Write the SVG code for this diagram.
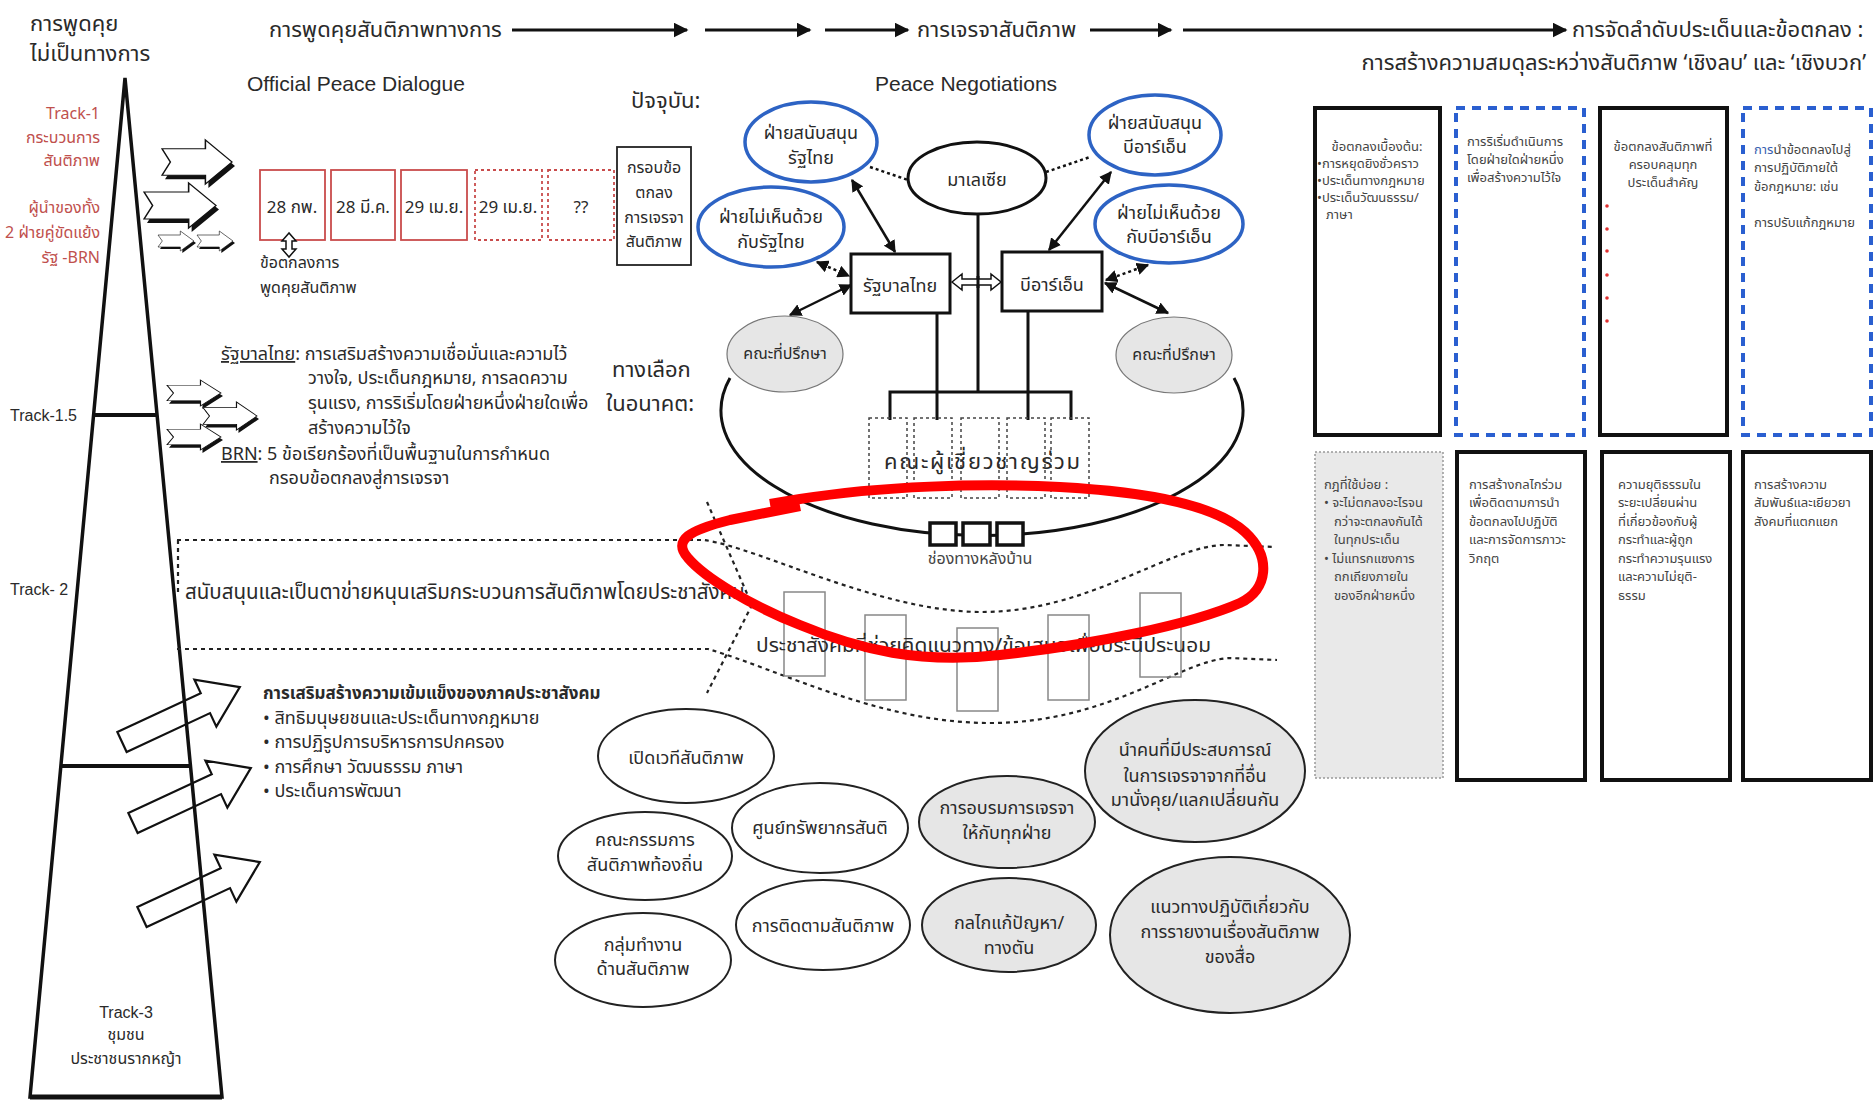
<svg xmlns="http://www.w3.org/2000/svg" width="1874" height="1102" viewBox="0 0 1874 1102">
<defs>
<style>
text{font-family:"Noto Sans","Noto Sans Thai","Liberation Sans",sans-serif;fill:#2a2a2a}
.h{font-size:22px}
.m{font-size:18px}
.sm{font-size:16px}
.xs{font-size:13px;fill:#444}
.en{font-family:"Liberation Sans",Arial,sans-serif}
.c{text-anchor:middle}
.r{text-anchor:end}
.red{fill:#c0504d}
.ln{stroke:#111;fill:none}
.blue{fill:#fff;stroke:#2d63c4;stroke-width:3.5}
.gray{fill:#e6e6e6;stroke:#777;stroke-width:1.2}
.wht{fill:#fff;stroke:#222;stroke-width:2}
.blk{fill:#fff;stroke:#111;stroke-width:2.2}
.shd{fill:#111}
</style>
<marker id="a" viewBox="0 0 10 10" refX="9" refY="5" markerWidth="5" markerHeight="5" orient="auto-start-reverse"><path d="M0,0L10,5L0,10z" fill="#111"/></marker>
<marker id="b" viewBox="0 0 10 10" refX="9" refY="5" markerWidth="5" markerHeight="5" orient="auto-start-reverse"><path d="M0,0L10,5L0,10z" fill="#111"/></marker>
<path id="notch" d="M0,20 L62,20 L62,0 L100,50 L62,100 L62,80 L0,80 L12,50 Z"/>
<path id="diag" d="M0,-11 L92,-11 L92,-26 L130,0 L92,26 L92,11 L0,11 Z"/>
</defs>
<rect width="1874" height="1102" fill="#fff"/>

<!-- Header -->
<g id="header">
<text class="h" x="30" y="31">การพูดคุย</text>
<text class="h" x="30" y="61">ไม่เป็นทางการ</text>
<text class="h" x="269" y="37">การพูดคุยสันติภาพทางการ</text>
<text class="h" x="917" y="37">การเจรจาสันติภาพ</text>
<text class="h" x="1572" y="37">การจัดลำดับประเด็นและข้อตกลง :</text>
<text class="h r" x="1866" y="70">การสร้างความสมดุลระหว่างสันติภาพ ‘เชิงลบ’ และ ‘เชิงบวก’</text>
<text class="en" x="247" y="91" font-size="21">Official Peace Dialogue</text>
<text class="en" x="875" y="91" font-size="21">Peace Negotiations</text>
<text class="h" x="631" y="108">ปัจจุบัน:</text>
<text class="h" x="612" y="377">ทางเลือก</text>
<text class="h" x="606" y="411">ในอนาคต:</text>
</g>

<!-- Pyramid -->
<g id="pyramid">
<use href="#diag" class="blk" transform="translate(122,742) rotate(-25)"/>
<use href="#diag" class="blk" transform="translate(133,823) rotate(-25)"/>
<use href="#diag" class="blk" transform="translate(142,917) rotate(-25)"/>
<polygon points="125,78 222,1097 30,1097" fill="none" stroke="#111" stroke-width="3.5" stroke-linejoin="miter"/>
<line x1="93" y1="415" x2="157" y2="415" stroke="#111" stroke-width="4"/>
<line x1="61" y1="766" x2="190" y2="766" stroke="#111" stroke-width="4"/>
<line x1="30" y1="1097" x2="222" y2="1097" stroke="#111" stroke-width="5"/>
<text class="sm red r" x="100" y="119">Track-1</text>
<text class="sm red r" x="100" y="143">กระบวนการ</text>
<text class="sm red r" x="100" y="166">สันติภาพ</text>
<text class="sm red r" x="100" y="213">ผู้นำของทั้ง</text>
<text class="sm red r" x="100" y="238">2 ฝ่ายคู่ขัดแย้ง</text>
<text class="sm red r" x="100" y="263">รัฐ -BRN</text>
<text class="sm en" x="10" y="421">Track-1.5</text>
<text class="sm en" x="10" y="595">Track- 2</text>
<text class="sm en c" x="126" y="1018">Track-3</text>
<text class="sm c" x="126" y="1040">ชุมชน</text>
<text class="sm c" x="126" y="1064">ประชาชนรากหญ้า</text>
</g>

<!-- Track-1 block arrows -->
<g id="track1-arrows">
<use href="#notch" class="shd" transform="translate(165,144) scale(0.7,0.44)"/>
<use href="#notch" class="blk" transform="translate(162,140) scale(0.7,0.44)"/>
<use href="#notch" class="shd" transform="translate(147,187) scale(0.72,0.45)"/>
<use href="#notch" class="blk" transform="translate(144,183) scale(0.72,0.45)"/>
<use href="#notch" class="shd" transform="translate(160,233) scale(0.36,0.2)"/>
<use href="#notch" class="blk" transform="translate(158,231) scale(0.36,0.2)"/>
<use href="#notch" class="shd" transform="translate(199,233) scale(0.36,0.2)"/>
<use href="#notch" class="blk" transform="translate(197,231) scale(0.36,0.2)"/>
<use href="#notch" class="shd" transform="translate(169,383) scale(0.54,0.26)"/>
<use href="#notch" class="blk" transform="translate(167,380) scale(0.54,0.26)"/>
<use href="#notch" class="shd" transform="translate(205,405) scale(0.54,0.28)"/>
<use href="#notch" class="blk" transform="translate(203,402) scale(0.54,0.28)"/>
<use href="#notch" class="shd" transform="translate(169,427) scale(0.54,0.26)"/>
<use href="#notch" class="blk" transform="translate(167,424) scale(0.54,0.26)"/>
</g>

<!-- Track-1 date boxes -->
<g id="dates" font-size="17">
<rect x="260" y="170" width="65" height="70" fill="none" stroke="#c94c4c" stroke-width="1.8"/>
<rect x="331" y="170" width="64" height="70" fill="none" stroke="#c94c4c" stroke-width="1.8"/>
<rect x="401" y="170" width="66" height="70" fill="none" stroke="#c94c4c" stroke-width="1.8"/>
<rect x="475" y="170" width="67" height="70" fill="none" stroke="#c94c4c" stroke-width="1.8" stroke-dasharray="3 3"/>
<rect x="548" y="170" width="66" height="70" fill="none" stroke="#c94c4c" stroke-width="1.8" stroke-dasharray="3 3"/>
<text class="c" x="292" y="213">28 กพ.</text>
<text class="c" x="363" y="213">28 มี.ค.</text>
<text class="c" x="434" y="213">29 เม.ย.</text>
<text class="c" x="508" y="213">29 เม.ย.</text>
<text class="c" x="581" y="213">??</text>
<polygon points="289,233 282,241 286,241 286,249 282,249 289,257 296,249 292,249 292,241 296,241" fill="#fff" stroke="#111" stroke-width="1.5"/>
<text class="sm" x="260" y="268">ข้อตกลงการ</text>
<text class="sm" x="260" y="293">พูดคุยสันติภาพ</text>
</g>

<g id="framework">
<rect x="617" y="147" width="74" height="118" fill="#fff" stroke="#222" stroke-width="1.8"/>
<text class="sm c" x="654" y="173">กรอบข้อ</text>
<text class="sm c" x="654" y="198">ตกลง</text>
<text class="sm c" x="654" y="223">การเจรจา</text>
<text class="sm c" x="654" y="247">สันติภาพ</text>
</g>

<!-- Track-1.5 text -->
<g id="track15-text" font-size="18">
<text x="221" y="360"><tspan text-decoration="underline">รัฐบาลไทย</tspan>: การเสริมสร้างความเชื่อมั่นและความไว้</text>
<text x="308" y="384">วางใจ, ประเด็นกฎหมาย, การลดความ</text>
<text x="308" y="409">รุนแรง, การริเริ่มโดยฝ่ายหนึ่งฝ่ายใดเพื่อ</text>
<text x="308" y="434">สร้างความไว้ใจ</text>
<text x="221" y="460"><tspan text-decoration="underline">BRN</tspan>: 5 ข้อเรียกร้องที่เป็นพื้นฐานในการกำหนด</text>
<text x="269" y="484">กรอบข้อตกลงสู่การเจรจา</text>
</g>

<!-- Connectors -->
<g id="connectors" fill="none" stroke="#111">
<line x1="512" y1="30" x2="687" y2="30" stroke-width="3" marker-end="url(#a)"/>
<line x1="705" y1="30" x2="810" y2="30" stroke-width="3" marker-end="url(#a)"/>
<line x1="825" y1="30" x2="908" y2="30" stroke-width="3" marker-end="url(#a)"/>
<line x1="1090" y1="30" x2="1171" y2="30" stroke-width="3" marker-end="url(#a)"/>
<line x1="1183" y1="30" x2="1566" y2="30" stroke-width="3" marker-end="url(#a)"/>
<line x1="852" y1="180" x2="895" y2="252" stroke-width="2.5" marker-start="url(#b)" marker-end="url(#b)"/>
<line x1="817" y1="262" x2="849" y2="276" stroke-width="2.5" stroke-dasharray="3 3" marker-start="url(#b)" marker-end="url(#b)"/>
<line x1="851" y1="285" x2="790" y2="315" stroke-width="2.5" marker-start="url(#b)" marker-end="url(#b)"/>
<line x1="1111" y1="172" x2="1049" y2="250" stroke-width="2.5" marker-start="url(#b)" marker-end="url(#b)"/>
<line x1="1148" y1="265" x2="1106" y2="280" stroke-width="2.5" stroke-dasharray="3 3" marker-start="url(#b)" marker-end="url(#b)"/>
<line x1="1105" y1="283" x2="1168" y2="313" stroke-width="2.5" marker-start="url(#b)" marker-end="url(#b)"/>
<line x1="870" y1="167" x2="908" y2="180" stroke-width="2.5" stroke-dasharray="3 3"/>
<line x1="1046" y1="172" x2="1090" y2="157" stroke-width="2.5" stroke-dasharray="3 3"/>
<path d="M730,378 A261,125 0 1,0 1234,378" stroke-width="3"/>
<path d="M978,214 V392 M890,420 V392 H1071 V420 M937,313 V420 M1028,311 V420" stroke-width="3"/>
<polygon points="952,282 962,274 962,279 991,279 991,274 1001,282 991,290 991,285 962,285 962,290" fill="#fff" stroke-width="1.5"/>
<line x1="978" y1="276" x2="978" y2="288" stroke-width="3"/>
<!-- Track-2 dotted network -->
<g stroke="#222" stroke-width="2.2" stroke-dasharray="4 4">
<path d="M177,540 L704,540 C760,548 880,612 982,612 C1090,612 1170,545 1225,545 L1275,547"/>
<path d="M177,649 L708,649 C780,670 880,723 990,723 C1110,723 1180,660 1230,658 L1277,660"/>
<path d="M707,502 L752,605 L707,693"/>
<path d="M178,540 L178,592"/>
</g>
</g>

<!-- Negotiation nodes -->
<g id="malaysia"><ellipse cx="977" cy="178" rx="69" ry="36" fill="#fff" stroke="#111" stroke-width="3"/><text class="m c" x="977" y="186">มาเลเซีย</text></g>
<g id="pro-thai"><ellipse class="blue" cx="811" cy="142" rx="66" ry="40"/><text class="m c" x="811" y="139">ฝ่ายสนับสนุน</text><text class="m c" x="811" y="164">รัฐไทย</text></g>
<g id="anti-thai"><ellipse class="blue" cx="771" cy="227" rx="73" ry="40"/><text class="m c" x="771" y="223">ฝ่ายไม่เห็นด้วย</text><text class="m c" x="771" y="248">กับรัฐไทย</text></g>
<g id="pro-brn"><ellipse class="blue" cx="1155" cy="135" rx="66" ry="40"/><text class="m c" x="1155" y="129">ฝ่ายสนับสนุน</text><text class="m c" x="1155" y="153">บีอาร์เอ็น</text></g>
<g id="anti-brn"><ellipse class="blue" cx="1169" cy="224" rx="74" ry="39"/><text class="m c" x="1169" y="219">ฝ่ายไม่เห็นด้วย</text><text class="m c" x="1169" y="243">กับบีอาร์เอ็น</text></g>
<g id="thai-gov"><rect x="851" y="254" width="99" height="59" fill="#fff" stroke="#111" stroke-width="3"/><text class="m c" x="900" y="292">รัฐบาลไทย</text></g>
<g id="brn"><rect x="1002" y="252" width="100" height="59" fill="#fff" stroke="#111" stroke-width="3"/><text class="m c" x="1052" y="291">บีอาร์เอ็น</text></g>
<g id="advisor-l"><ellipse class="gray" cx="785" cy="354" rx="58" ry="38"/><text class="sm c" x="785" y="359">คณะที่ปรึกษา</text></g>
<g id="advisor-r"><ellipse class="gray" cx="1174" cy="355" rx="58" ry="38"/><text class="sm c" x="1174" y="360">คณะที่ปรึกษา</text></g>
<g id="experts" fill="none" stroke="#444" stroke-width="1.5" stroke-dasharray="3 3">
<rect x="869" y="418" width="38" height="80"/><rect x="914" y="418" width="38" height="80"/><rect x="961" y="418" width="38" height="80"/><rect x="1007" y="418" width="38" height="80"/><rect x="1051" y="418" width="38" height="80"/>
</g>
<text x="884" y="469" font-size="22" textLength="196" lengthAdjust="spacing">คณะผู้เชี่ยวชาญร่วม</text>
<g id="backchannel" fill="#fff" stroke="#111" stroke-width="3.5">
<rect x="930" y="523" width="26" height="22"/><rect x="963" y="523" width="27" height="22"/><rect x="997" y="523" width="26" height="22"/>
</g>
<text class="sm c" x="980" y="564" style="fill:#444">ช่องทางหลังบ้าน</text>

<!-- Track-2 -->
<g id="track2">
<text x="185" y="599" font-size="20.5">สนับสนุนและเป็นตาข่ายหนุนเสริมกระบวนการสันติภาพโดยประชาสังคม</text>
<g fill="none" stroke="#888" stroke-width="1.5">
<rect x="784" y="592" width="41" height="84"/><rect x="865" y="615" width="41" height="85"/><rect x="957" y="628" width="41" height="83"/><rect x="1048" y="615" width="41" height="85"/><rect x="1140" y="593" width="41" height="84"/>
</g>
<text x="756" y="652" font-size="19" textLength="455" lengthAdjust="spacingAndGlyphs">ประชาสังคมที่ช่วยคิดแนวทาง/ข้อเสนอเพื่อประนีประนอม</text>
</g>

<!-- Track-3 text -->
<g id="track3-text" font-size="18">
<text x="263" y="699" font-size="17" font-weight="bold">การเสริมสร้างความเข้มแข็งของภาคประชาสังคม</text>
<text x="263" y="724">• สิทธิมนุษยชนและประเด็นทางกฎหมาย</text>
<text x="263" y="748">• การปฏิรูปการบริหารการปกครอง</text>
<text x="263" y="773">• การศึกษา วัฒนธรรม ภาษา</text>
<text x="263" y="797">• ประเด็นการพัฒนา</text>
</g>

<!-- Civil society ellipses -->
<g id="e1"><ellipse class="wht" cx="686" cy="756" rx="88" ry="47"/><text class="m c" x="686" y="764">เปิดเวทีสันติภาพ</text></g>
<g id="e2"><ellipse class="wht" cx="645" cy="856" rx="87" ry="44"/><text class="m c" x="645" y="846">คณะกรรมการ</text><text class="m c" x="645" y="871">สันติภาพท้องถิ่น</text></g>
<g id="e3"><ellipse class="wht" cx="643" cy="960" rx="88" ry="47"/><text class="m c" x="643" y="951">กลุ่มทำงาน</text><text class="m c" x="643" y="975">ด้านสันติภาพ</text></g>
<g id="e4"><ellipse class="wht" cx="820" cy="828" rx="88" ry="45"/><text class="m c" x="820" y="834">ศูนย์ทรัพยากรสันติ</text></g>
<g id="e5"><ellipse class="wht" cx="823" cy="925" rx="87" ry="45"/><text class="m c" x="823" y="932">การติดตามสันติภาพ</text></g>
<g id="e6"><ellipse class="gray" style="stroke:#222;stroke-width:2" cx="1007" cy="822" rx="88" ry="46"/><text class="m c" x="1007" y="814">การอบรมการเจรจา</text><text class="m c" x="1007" y="839">ให้กับทุกฝ่าย</text></g>
<g id="e7"><ellipse class="gray" style="stroke:#222;stroke-width:2" cx="1009" cy="925" rx="87" ry="47"/><text class="m c" x="1009" y="929">กลไกแก้ปัญหา/</text><text class="m c" x="1009" y="954">ทางตัน</text></g>
<g id="e8"><ellipse class="gray" style="stroke:#222;stroke-width:2" cx="1195" cy="771" rx="110" ry="71"/><text class="m c" x="1195" y="756">นำคนที่มีประสบการณ์</text><text class="m c" x="1195" y="782">ในการเจรจาจากที่อื่น</text><text class="m c" x="1195" y="806">มานั่งคุย/แลกเปลี่ยนกัน</text></g>
<g id="e9"><ellipse class="gray" style="stroke:#222;stroke-width:2" cx="1230" cy="935" rx="120" ry="78"/><text class="m c" x="1230" y="913">แนวทางปฏิบัติเกี่ยวกับ</text><text class="m c" x="1230" y="938">การรายงานเรื่องสันติภาพ</text><text class="m c" x="1230" y="963">ของสื่อ</text></g>

<!-- Right side boxes -->
<g id="boxA"><rect x="1315" y="108" width="125" height="327" fill="#fff" stroke="#111" stroke-width="4"/>
<text class="xs c" x="1377" y="151">ข้อตกลงเบื้องต้น:</text>
<text class="xs" x="1317" y="168">•การหยุดยิงชั่วคราว</text>
<text class="xs" x="1317" y="185">•ประเด็นทางกฎหมาย</text>
<text class="xs" x="1317" y="202">•ประเด็นวัฒนธรรม/</text>
<text class="xs" x="1326" y="219">ภาษา</text></g>
<g id="boxB"><rect x="1456" y="108" width="128" height="327" fill="#fff" stroke="#2a5fd0" stroke-width="4" stroke-dasharray="9 7"/>
<text class="xs" x="1467" y="146">การริเริ่มดำเนินการ</text>
<text class="xs" x="1467" y="164">โดยฝ่ายใดฝ่ายหนึ่ง</text>
<text class="xs" x="1467" y="182">เพื่อสร้างความไว้ใจ</text></g>
<g id="boxC"><rect x="1600" y="108" width="127" height="327" fill="#fff" stroke="#111" stroke-width="4"/>
<text class="xs c" x="1663" y="151">ข้อตกลงสันติภาพที่</text>
<text class="xs c" x="1663" y="169">ครอบคลุมทุก</text>
<text class="xs c" x="1663" y="187">ประเด็นสำคัญ</text>
<g fill="#e03030"><circle cx="1607" cy="206" r="1.8"/><circle cx="1607" cy="229" r="1.8"/><circle cx="1607" cy="251" r="1.8"/><circle cx="1607" cy="275" r="1.8"/><circle cx="1607" cy="298" r="1.8"/><circle cx="1607" cy="321" r="1.8"/></g></g>
<g id="boxD"><rect x="1743" y="108" width="128" height="327" fill="#fff" stroke="#2a5fd0" stroke-width="4" stroke-dasharray="9 7"/>
<text class="xs" x="1754" y="154"><tspan style="fill:#3a5fb0">การ</tspan>นำข้อตกลงไปสู่</text>
<text class="xs" x="1754" y="172">การปฏิบัติภายใต้</text>
<text class="xs" x="1754" y="191">ข้อกฎหมาย: เช่น</text>
<text class="xs" x="1754" y="227">การปรับแก้กฎหมาย</text></g>
<g id="boxE"><rect x="1315" y="452" width="128" height="326" fill="#e9e9e9" stroke="#999" stroke-width="1.5" stroke-dasharray="2 2"/>
<text class="xs" x="1324" y="489">กฎที่ใช้บ่อย :</text>
<text class="xs" x="1324" y="507">• จะไม่ตกลงอะไรจน</text>
<text class="xs" x="1334" y="526">กว่าจะตกลงกันได้</text>
<text class="xs" x="1334" y="544">ในทุกประเด็น</text>
<text class="xs" x="1324" y="563">• ไม่แทรกแซงการ</text>
<text class="xs" x="1334" y="581">ถกเถียงภายใน</text>
<text class="xs" x="1334" y="600">ของอีกฝ่ายหนึ่ง</text></g>
<g id="boxF"><rect x="1457" y="452" width="128" height="328" fill="#fff" stroke="#111" stroke-width="4"/>
<text class="xs" x="1469" y="489">การสร้างกลไกร่วม</text>
<text class="xs" x="1469" y="507">เพื่อติดตามการนำ</text>
<text class="xs" x="1469" y="526">ข้อตกลงไปปฏิบัติ</text>
<text class="xs" x="1469" y="544">และการจัดการภาวะ</text>
<text class="xs" x="1469" y="563">วิกฤต</text></g>
<g id="boxG"><rect x="1602" y="452" width="128" height="328" fill="#fff" stroke="#111" stroke-width="4"/>
<text class="xs" x="1618" y="489">ความยุติธรรมใน</text>
<text class="xs" x="1618" y="507">ระยะเปลี่ยนผ่าน</text>
<text class="xs" x="1618" y="526">ที่เกี่ยวข้องกับผู้</text>
<text class="xs" x="1618" y="544">กระทำและผู้ถูก</text>
<text class="xs" x="1618" y="563">กระทำความรุนแรง</text>
<text class="xs" x="1618" y="581">และความไม่ยุติ-</text>
<text class="xs" x="1618" y="600">ธรรม</text></g>
<g id="boxH"><rect x="1743" y="452" width="128" height="328" fill="#fff" stroke="#111" stroke-width="4"/>
<text class="xs" x="1754" y="489">การสร้างความ</text>
<text class="xs" x="1754" y="507">สัมพันธ์และเยียวยา</text>
<text class="xs" x="1754" y="526">สังคมที่แตกแยก</text></g>

<!-- Red annotation loop -->
<path id="red-loop" d="M770,504 L800,499 C880,486 980,483 1060,487 C1150,492 1215,505 1245,532 C1272,557 1268,590 1240,603 C1190,625 1090,645 1000,655 C920,664 860,650 800,625 C750,605 705,578 688,558 C672,540 690,530 730,520 L800,506" fill="none" stroke="#f00" stroke-width="10" stroke-linejoin="round"/>
</svg>
